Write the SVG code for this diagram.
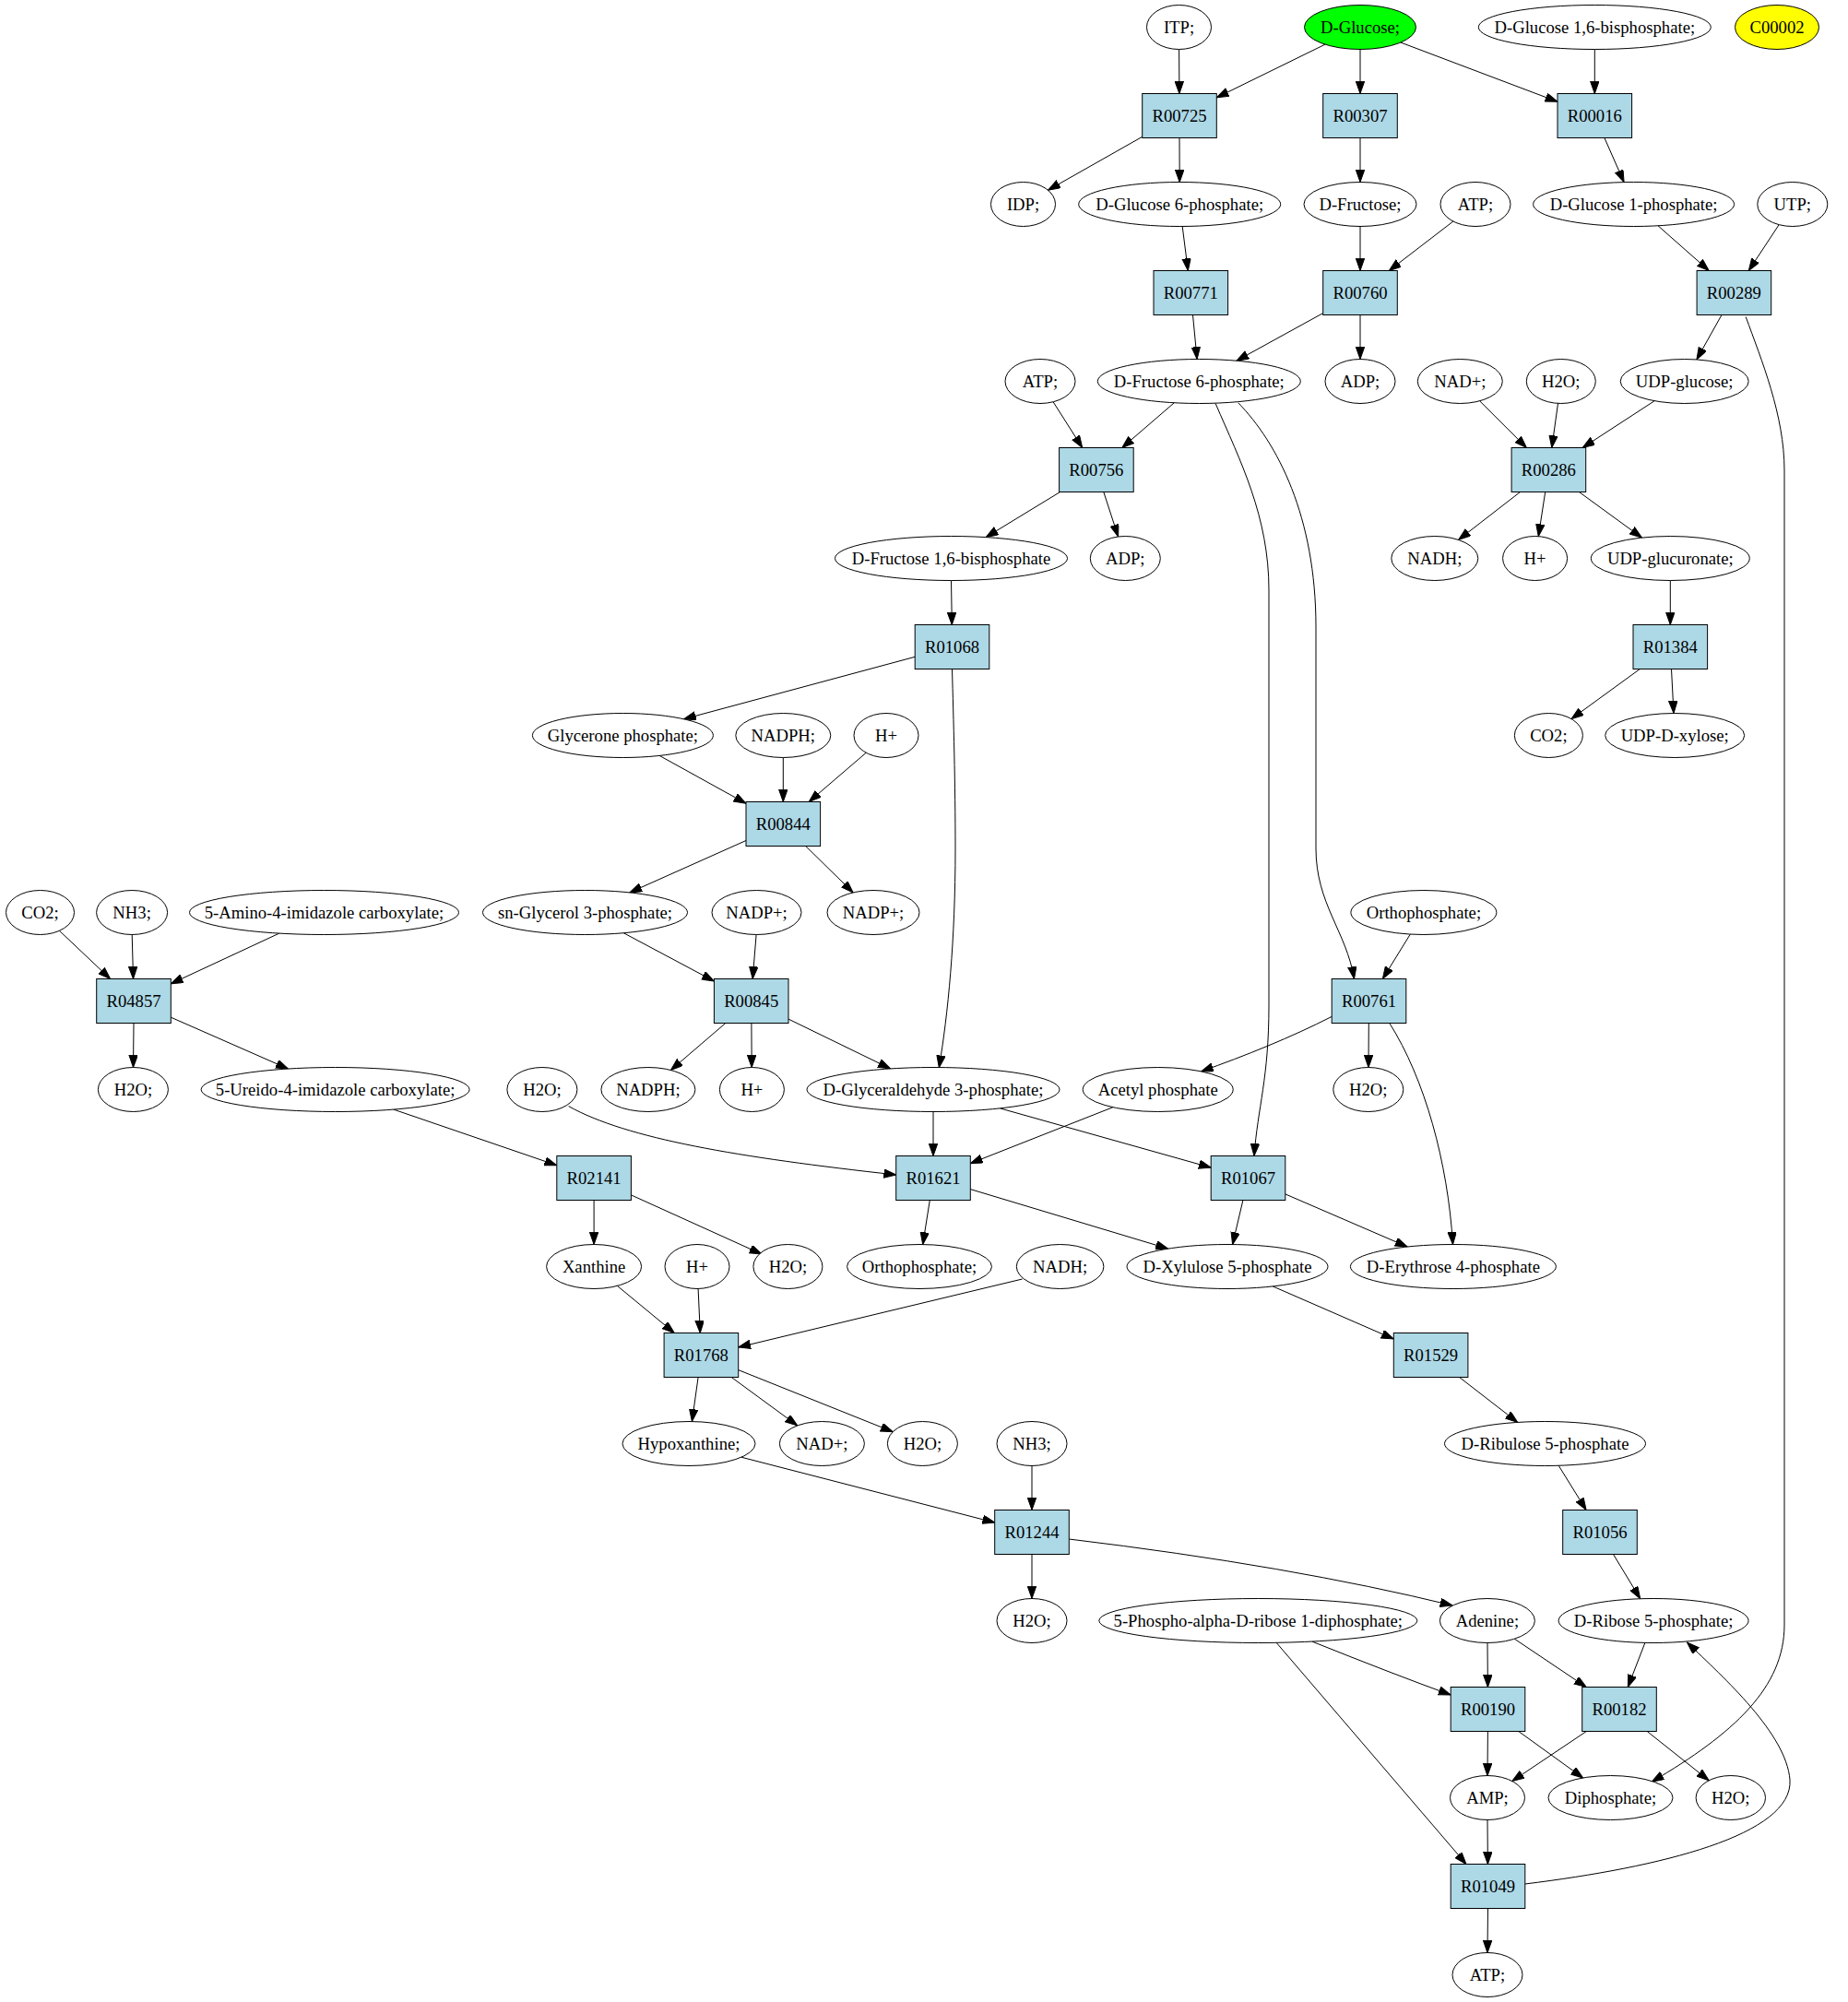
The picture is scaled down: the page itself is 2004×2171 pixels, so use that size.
<svg xmlns="http://www.w3.org/2000/svg" width="2004" height="2171" viewBox="0 0 2004 2171">
<style>
.n ellipse{fill:#ffffff;stroke:#000000;stroke-width:1}
.r rect{fill:#add8e6;stroke:#000000;stroke-width:1}
text{font-family:"Liberation Serif","Times New Roman",serif;font-size:18.67px;text-anchor:middle;fill:#000000}
#edges path{fill:none;stroke:#000000;stroke-width:1;marker-end:url(#ah)}
</style>
<defs>
<marker id="ah" markerWidth="14" markerHeight="10" refX="13.3" refY="4.7" orient="auto" markerUnits="userSpaceOnUse"><path d="M0,0 L13.3,4.7 L0,9.4 z" fill="#000000" stroke="#000000" stroke-width="1"/></marker>
</defs>
<rect x="0" y="0" width="2004" height="2171" fill="#ffffff"/>
<g id="edges">
<path d="M1278.6,53.5 L1278.9,101.5"/>
<path d="M1436.9,48.2 L1319.3,105.8"/>
<path d="M1475,53.5 L1475,101.5"/>
<path d="M1518.8,46 L1689,110.3"/>
<path d="M1729.3,53.5 L1729.3,101.5"/>
<path d="M1238.7,148.3 L1136.5,206.2"/>
<path d="M1279,149.5 L1279.2,197.5"/>
<path d="M1475,149.5 L1475,197.5"/>
<path d="M1739.9,149.5 L1761.1,197.6"/>
<path d="M1282.2,245.5 L1288.3,293.5"/>
<path d="M1475,245.5 L1475,293.5"/>
<path d="M1575.9,240 L1506.3,293.5"/>
<path d="M1798,244.8 L1853.2,293.5"/>
<path d="M1929.2,243.6 L1896.3,293.5"/>
<path d="M1293.5,341.5 L1298.1,389.5"/>
<path d="M1434.7,339.6 L1340.9,391.2"/>
<path d="M1475,341.5 L1475,389.5"/>
<path d="M1867,341.5 L1839.9,389.9"/>
<path d="M1893.2,343.6 C1910,390 1935,450 1935,510 L1935,1762 C1935,1830 1880,1880 1791.2,1932.2"/>
<path d="M1142.1,435.8 L1173.7,485.5"/>
<path d="M1273.3,436.8 L1216.8,485.5"/>
<path d="M1318.2,437.7 C1345,500 1376,560 1376,640 L1376,1090 C1376,1170 1364,1200 1360,1253.5"/>
<path d="M1342.6,436.7 C1385,480 1427,560 1427,680 L1427,920 C1427,980 1460,1010 1468.5,1061.5"/>
<path d="M1604.6,434.8 L1655.4,485.5"/>
<path d="M1689.5,437.4 L1682.8,485.5"/>
<path d="M1794.2,434.7 L1716.2,485.5"/>
<path d="M1149.6,533.5 L1069.1,582.6"/>
<path d="M1196.8,533.5 L1212.6,582"/>
<path d="M1648.5,533.5 L1581.6,585.4"/>
<path d="M1675.7,533.5 L1668.3,581.6"/>
<path d="M1712.4,533.5 L1780.5,583.1"/>
<path d="M1031.5,629.5 L1032.3,677.5"/>
<path d="M1811.3,629.5 L1811.3,677.5"/>
<path d="M992.2,712.3 L741.4,779.8"/>
<path d="M1032.5,725.5 C1034,780 1036,850 1036,920 C1036,1020 1028,1100 1018.3,1157.8"/>
<path d="M1778.3,725.5 L1704,779.6"/>
<path d="M1812.5,725.5 L1815,773.5"/>
<path d="M715.1,819.4 L809,871.3"/>
<path d="M849.3,821.5 L849.3,869.5"/>
<path d="M939.2,816.3 L877.2,869.5"/>
<path d="M809,911.5 L682.8,967.9"/>
<path d="M873.7,917.5 L925.1,967.9"/>
<path d="M64.4,1009.3 L119.6,1061.5"/>
<path d="M143.2,1013.5 L144.5,1061.5"/>
<path d="M302.8,1012.1 L185.3,1066.8"/>
<path d="M676.2,1011.7 L774.4,1064"/>
<path d="M820.1,1013.5 L816.2,1061.5"/>
<path d="M1529.3,1013.1 L1499.4,1061.5"/>
<path d="M145,1109.5 L144.5,1157.5"/>
<path d="M185.3,1103.2 L312.4,1159"/>
<path d="M786.8,1109.5 L727.4,1160.5"/>
<path d="M814.9,1109.5 L815.2,1157.5"/>
<path d="M855,1105.1 L965.6,1158.9"/>
<path d="M1444.2,1102.4 C1400,1125 1350,1145 1302.5,1161.9"/>
<path d="M1484.3,1109.5 L1484,1157.5"/>
<path d="M1506.8,1109.5 C1545,1170 1570,1260 1575.5,1349.5"/>
<path d="M426.8,1203.1 L603.8,1263.7"/>
<path d="M616.6,1199.6 C680,1235 800,1255 971.7,1274"/>
<path d="M1012,1205.5 L1012,1253.5"/>
<path d="M1084.5,1201.9 L1313.2,1266.2"/>
<path d="M1206.9,1200.7 L1052.3,1261.6"/>
<path d="M644.1,1301.5 L644.1,1349.5"/>
<path d="M684.4,1295.9 L826,1360"/>
<path d="M1008.3,1301.5 L1000.7,1349.5"/>
<path d="M1052.3,1289.6 L1266.6,1354.1"/>
<path d="M1347.9,1301.5 L1336.6,1349.6"/>
<path d="M1393.8,1294.9 L1526.1,1352"/>
<path d="M669.4,1394.4 L731.3,1445.5"/>
<path d="M757.1,1397.5 L759.3,1445.5"/>
<path d="M1108.6,1387 L800.7,1461"/>
<path d="M1380.2,1394.9 L1511.3,1452"/>
<path d="M757.1,1493.5 L750.4,1541.5"/>
<path d="M793.2,1493.5 L864.7,1545.9"/>
<path d="M800.7,1485.6 L968.3,1552.7"/>
<path d="M1582.6,1493.5 L1645.7,1542.4"/>
<path d="M803.9,1580.2 L1078.7,1651.1"/>
<path d="M1119,1589.5 L1119,1637.5"/>
<path d="M1690.2,1589.3 L1720.1,1637.5"/>
<path d="M1119,1685.5 L1119,1733.5"/>
<path d="M1159.3,1669 Q1400,1698 1575,1741"/>
<path d="M1749.5,1685.5 L1778.7,1733.7"/>
<path d="M1422.9,1780.1 Q1510,1815 1573.2,1838"/>
<path d="M1384.1,1781.3 L1590,2021.5"/>
<path d="M1613,1781.5 L1613.4,1829.5"/>
<path d="M1642.3,1777.2 L1720.2,1829.5"/>
<path d="M1783.9,1781.4 L1765.3,1829.5"/>
<path d="M1613.4,1877.5 L1613,1925.5"/>
<path d="M1646.8,1877.5 L1716.7,1928"/>
<path d="M1720.3,1877.5 L1639.8,1931.5"/>
<path d="M1786.2,1877.5 L1853.2,1930.8"/>
<path d="M1613,1973.5 L1613.4,2021.5"/>
<path d="M1613.5,2069.5 L1613,2117.5"/>
<path d="M1653.8,2043 C1800,2025 1945,1990 1941,1930 C1937,1880 1870,1820 1829.5,1781"/>
</g>
<g id="n_itp" class="n"><ellipse cx="1278.5" cy="29.5" rx="35" ry="24"/><text x="1278.5" y="36">ITP;</text></g>
<g id="n_dglucose" class="n"><ellipse cx="1475" cy="29.5" rx="60.5" ry="24" style="fill:#00ff00"/><text x="1475" y="36">D-Glucose;</text></g>
<g id="n_g16bp" class="n"><ellipse cx="1729.3" cy="29.5" rx="126" ry="24"/><text x="1729.3" y="36">D-Glucose 1,6-bisphosphate;</text></g>
<g id="n_c00002" class="n"><ellipse cx="1927" cy="29.5" rx="45.5" ry="24" style="fill:#ffff00"/><text x="1927" y="36">C00002</text></g>
<g id="r_R00725" class="r"><rect x="1238.7" y="101.5" width="80.6" height="48"/><text x="1279" y="132">R00725</text></g>
<g id="r_R00307" class="r"><rect x="1434.7" y="101.5" width="80.6" height="48"/><text x="1475" y="132">R00307</text></g>
<g id="r_R00016" class="r"><rect x="1689" y="101.5" width="80.6" height="48"/><text x="1729.3" y="132">R00016</text></g>
<g id="n_idp" class="n"><ellipse cx="1109.5" cy="221.5" rx="35" ry="24"/><text x="1109.5" y="228">IDP;</text></g>
<g id="n_g6p" class="n"><ellipse cx="1279.2" cy="221.5" rx="109.5" ry="24"/><text x="1279.2" y="228">D-Glucose 6-phosphate;</text></g>
<g id="n_dfructose" class="n"><ellipse cx="1475" cy="221.5" rx="61" ry="24"/><text x="1475" y="228">D-Fructose;</text></g>
<g id="n_atp_1" class="n"><ellipse cx="1600" cy="221.5" rx="38" ry="24"/><text x="1600" y="228">ATP;</text></g>
<g id="n_g1p" class="n"><ellipse cx="1771.6" cy="221.5" rx="109" ry="24"/><text x="1771.6" y="228">D-Glucose 1-phosphate;</text></g>
<g id="n_utp" class="n"><ellipse cx="1943.8" cy="221.5" rx="38" ry="24"/><text x="1943.8" y="228">UTP;</text></g>
<g id="r_R00771" class="r"><rect x="1251" y="293.5" width="80.6" height="48"/><text x="1291.3" y="324">R00771</text></g>
<g id="r_R00760" class="r"><rect x="1434.7" y="293.5" width="80.6" height="48"/><text x="1475" y="324">R00760</text></g>
<g id="r_R00289" class="r"><rect x="1840.1" y="293.5" width="80.6" height="48"/><text x="1880.4" y="324">R00289</text></g>
<g id="n_atp_2" class="n"><ellipse cx="1128" cy="413.5" rx="38" ry="24"/><text x="1128" y="420">ATP;</text></g>
<g id="n_f6p" class="n"><ellipse cx="1300.3" cy="413.5" rx="110" ry="24"/><text x="1300.3" y="420">D-Fructose 6-phosphate;</text></g>
<g id="n_adp_1" class="n"><ellipse cx="1475" cy="413.5" rx="38" ry="24"/><text x="1475" y="420">ADP;</text></g>
<g id="n_nad_1" class="n"><ellipse cx="1583.3" cy="413.5" rx="46" ry="24"/><text x="1583.3" y="420">NAD+;</text></g>
<g id="n_h2o_1" class="n"><ellipse cx="1692.8" cy="413.5" rx="37.5" ry="24"/><text x="1692.8" y="420">H2O;</text></g>
<g id="n_udpglc" class="n"><ellipse cx="1826.7" cy="413.5" rx="69.5" ry="24"/><text x="1826.7" y="420">UDP-glucose;</text></g>
<g id="r_R00756" class="r"><rect x="1148.6" y="485.5" width="80.6" height="48"/><text x="1188.9" y="516">R00756</text></g>
<g id="r_R00286" class="r"><rect x="1639.1" y="485.5" width="80.6" height="48"/><text x="1679.4" y="516">R00286</text></g>
<g id="n_fbp" class="n"><ellipse cx="1031.5" cy="605.5" rx="126" ry="24"/><text x="1031.5" y="612">D-Fructose 1,6-bisphosphate</text></g>
<g id="n_adp_2" class="n"><ellipse cx="1220.3" cy="605.5" rx="38" ry="24"/><text x="1220.3" y="612">ADP;</text></g>
<g id="n_nadh_1" class="n"><ellipse cx="1555.8" cy="605.5" rx="47" ry="24"/><text x="1555.8" y="612">NADH;</text></g>
<g id="n_hplus_1" class="n"><ellipse cx="1664.6" cy="605.5" rx="35" ry="24"/><text x="1664.6" y="612">H+</text></g>
<g id="n_udpglcA" class="n"><ellipse cx="1811.3" cy="605.5" rx="86" ry="24"/><text x="1811.3" y="612">UDP-glucuronate;</text></g>
<g id="r_R01068" class="r"><rect x="992.2" y="677.5" width="80.6" height="48"/><text x="1032.5" y="708">R01068</text></g>
<g id="r_R01384" class="r"><rect x="1771" y="677.5" width="80.6" height="48"/><text x="1811.3" y="708">R01384</text></g>
<g id="n_dhap" class="n"><ellipse cx="675.4" cy="797.5" rx="98" ry="24"/><text x="675.4" y="804">Glycerone phosphate;</text></g>
<g id="n_nadph_1" class="n"><ellipse cx="849.3" cy="797.5" rx="51.5" ry="24"/><text x="849.3" y="804">NADPH;</text></g>
<g id="n_hplus_2" class="n"><ellipse cx="961" cy="797.5" rx="35" ry="24"/><text x="961" y="804">H+</text></g>
<g id="n_co2_1" class="n"><ellipse cx="1679.4" cy="797.5" rx="37" ry="24"/><text x="1679.4" y="804">CO2;</text></g>
<g id="n_udpxyl" class="n"><ellipse cx="1816.2" cy="797.5" rx="75.5" ry="24"/><text x="1816.2" y="804">UDP-D-xylose;</text></g>
<g id="r_R00844" class="r"><rect x="809" y="869.5" width="80.6" height="48"/><text x="849.3" y="900">R00844</text></g>
<g id="n_co2_2" class="n"><ellipse cx="43.5" cy="989.5" rx="37" ry="24"/><text x="43.5" y="996">CO2;</text></g>
<g id="n_nh3_1" class="n"><ellipse cx="143.1" cy="989.5" rx="38.5" ry="24"/><text x="143.1" y="996">NH3;</text></g>
<g id="n_aic" class="n"><ellipse cx="351.5" cy="989.5" rx="146" ry="24"/><text x="351.5" y="996">5-Amino-4-imidazole carboxylate;</text></g>
<g id="n_g3p" class="n"><ellipse cx="634.5" cy="989.5" rx="111" ry="24"/><text x="634.5" y="996">sn-Glycerol 3-phosphate;</text></g>
<g id="n_nadp_1" class="n"><ellipse cx="820.5" cy="989.5" rx="48.5" ry="24"/><text x="820.5" y="996">NADP+;</text></g>
<g id="n_nadp_2" class="n"><ellipse cx="947" cy="989.5" rx="50" ry="24"/><text x="947" y="996">NADP+;</text></g>
<g id="n_pi_1" class="n"><ellipse cx="1543.9" cy="989.5" rx="79" ry="24"/><text x="1543.9" y="996">Orthophosphate;</text></g>
<g id="r_R04857" class="r"><rect x="104.7" y="1061.5" width="80.6" height="48"/><text x="145" y="1092">R04857</text></g>
<g id="r_R00845" class="r"><rect x="774.4" y="1061.5" width="80.6" height="48"/><text x="814.7" y="1092">R00845</text></g>
<g id="r_R00761" class="r"><rect x="1444.2" y="1061.5" width="80.6" height="48"/><text x="1484.5" y="1092">R00761</text></g>
<g id="n_h2o_2" class="n"><ellipse cx="144.4" cy="1181.5" rx="38" ry="24"/><text x="144.4" y="1188">H2O;</text></g>
<g id="n_uic" class="n"><ellipse cx="363.6" cy="1181.5" rx="145.5" ry="24"/><text x="363.6" y="1188">5-Ureido-4-imidazole carboxylate;</text></g>
<g id="n_h2o_3" class="n"><ellipse cx="587.9" cy="1181.5" rx="38" ry="24"/><text x="587.9" y="1188">H2O;</text></g>
<g id="n_nadph_2" class="n"><ellipse cx="702.9" cy="1181.5" rx="51" ry="24"/><text x="702.9" y="1188">NADPH;</text></g>
<g id="n_hplus_3" class="n"><ellipse cx="815.4" cy="1181.5" rx="35" ry="24"/><text x="815.4" y="1188">H+</text></g>
<g id="n_gap" class="n"><ellipse cx="1012" cy="1181.5" rx="137" ry="24"/><text x="1012" y="1188">D-Glyceraldehyde 3-phosphate;</text></g>
<g id="n_acp" class="n"><ellipse cx="1255.7" cy="1181.5" rx="81.5" ry="24"/><text x="1255.7" y="1188">Acetyl phosphate</text></g>
<g id="n_h2o_4" class="n"><ellipse cx="1483.8" cy="1181.5" rx="38" ry="24"/><text x="1483.8" y="1188">H2O;</text></g>
<g id="r_R02141" class="r"><rect x="603.8" y="1253.5" width="80.6" height="48"/><text x="644.1" y="1284">R02141</text></g>
<g id="r_R01621" class="r"><rect x="971.7" y="1253.5" width="80.6" height="48"/><text x="1012" y="1284">R01621</text></g>
<g id="r_R01067" class="r"><rect x="1313.2" y="1253.5" width="80.6" height="48"/><text x="1353.5" y="1284">R01067</text></g>
<g id="n_xanthine" class="n"><ellipse cx="644.1" cy="1373.5" rx="51.5" ry="24"/><text x="644.1" y="1380">Xanthine</text></g>
<g id="n_hplus_4" class="n"><ellipse cx="756" cy="1373.5" rx="35" ry="24"/><text x="756" y="1380">H+</text></g>
<g id="n_h2o_5" class="n"><ellipse cx="854.4" cy="1373.5" rx="37.5" ry="24"/><text x="854.4" y="1380">H2O;</text></g>
<g id="n_pi_2" class="n"><ellipse cx="997" cy="1373.5" rx="78.5" ry="24"/><text x="997" y="1380">Orthophosphate;</text></g>
<g id="n_nadh_2" class="n"><ellipse cx="1149.6" cy="1373.5" rx="47.3" ry="24"/><text x="1149.6" y="1380">NADH;</text></g>
<g id="n_xu5p" class="n"><ellipse cx="1331" cy="1373.5" rx="109" ry="24"/><text x="1331" y="1380">D-Xylulose 5-phosphate</text></g>
<g id="n_e4p" class="n"><ellipse cx="1575.9" cy="1373.5" rx="111.5" ry="24"/><text x="1575.9" y="1380">D-Erythrose 4-phosphate</text></g>
<g id="r_R01768" class="r"><rect x="720.1" y="1445.5" width="80.6" height="48"/><text x="760.4" y="1476">R01768</text></g>
<g id="r_R01529" class="r"><rect x="1511.3" y="1445.5" width="80.6" height="48"/><text x="1551.6" y="1476">R01529</text></g>
<g id="n_hypox" class="n"><ellipse cx="747" cy="1565.5" rx="72" ry="24"/><text x="747" y="1572">Hypoxanthine;</text></g>
<g id="n_nad_2" class="n"><ellipse cx="891.4" cy="1565.5" rx="46" ry="24"/><text x="891.4" y="1572">NAD+;</text></g>
<g id="n_h2o_6" class="n"><ellipse cx="1000.4" cy="1565.5" rx="38" ry="24"/><text x="1000.4" y="1572">H2O;</text></g>
<g id="n_nh3_2" class="n"><ellipse cx="1119" cy="1565.5" rx="38" ry="24"/><text x="1119" y="1572">NH3;</text></g>
<g id="n_ru5p" class="n"><ellipse cx="1675.5" cy="1565.5" rx="109" ry="24"/><text x="1675.5" y="1572">D-Ribulose 5-phosphate</text></g>
<g id="r_R01244" class="r"><rect x="1078.7" y="1637.5" width="80.6" height="48"/><text x="1119" y="1668">R01244</text></g>
<g id="r_R01056" class="r"><rect x="1694.7" y="1637.5" width="80.6" height="48"/><text x="1735" y="1668">R01056</text></g>
<g id="n_h2o_7" class="n"><ellipse cx="1119" cy="1757.5" rx="38" ry="24"/><text x="1119" y="1764">H2O;</text></g>
<g id="n_prpp" class="n"><ellipse cx="1364.3" cy="1757.5" rx="172.5" ry="24"/><text x="1364.3" y="1764">5-Phospho-alpha-D-ribose 1-diphosphate;</text></g>
<g id="n_adenine" class="n"><ellipse cx="1612.9" cy="1757.5" rx="51.5" ry="24"/><text x="1612.9" y="1764">Adenine;</text></g>
<g id="n_r5p" class="n"><ellipse cx="1793.1" cy="1757.5" rx="103" ry="24"/><text x="1793.1" y="1764">D-Ribose 5-phosphate;</text></g>
<g id="r_R00190" class="r"><rect x="1573.2" y="1829.5" width="80.6" height="48"/><text x="1613.5" y="1860">R00190</text></g>
<g id="r_R00182" class="r"><rect x="1715.7" y="1829.5" width="80.6" height="48"/><text x="1756" y="1860">R00182</text></g>
<g id="n_amp" class="n"><ellipse cx="1613" cy="1949.5" rx="40.5" ry="24"/><text x="1613" y="1956">AMP;</text></g>
<g id="n_ppi" class="n"><ellipse cx="1746.5" cy="1949.5" rx="67.5" ry="24"/><text x="1746.5" y="1956">Diphosphate;</text></g>
<g id="n_h2o_8" class="n"><ellipse cx="1876.8" cy="1949.5" rx="37.7" ry="24"/><text x="1876.8" y="1956">H2O;</text></g>
<g id="r_R01049" class="r"><rect x="1573.2" y="2021.5" width="80.6" height="48"/><text x="1613.5" y="2052">R01049</text></g>
<g id="n_atp_3" class="n"><ellipse cx="1613" cy="2141.5" rx="38" ry="24"/><text x="1613" y="2148">ATP;</text></g>
</svg>
